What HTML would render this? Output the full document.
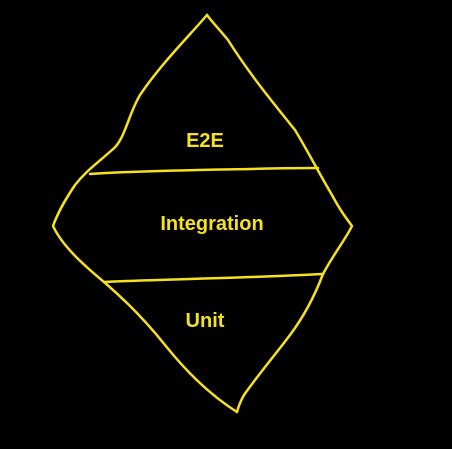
<!DOCTYPE html>
<html><head><style>
html,body{margin:0;padding:0;background:#000;width:452px;height:449px;overflow:hidden}
</style></head><body>
<svg width="452" height="449" viewBox="0 0 452 449" xmlns="http://www.w3.org/2000/svg">
<rect width="452" height="449" fill="#000"/>
<g fill="none" stroke="#f5e11c" stroke-width="2.5" stroke-linecap="round" stroke-linejoin="round">
<path d="M207,15 C190,35 160,65 140,95 C128,115 125,140 112,150 C95,165 85,172 75,185 C65,200 58,212 53,226 C62,245 80,262 104,282 C125,300 145,320 165,345 C185,370 210,395 237,412"/>
<path d="M207,15 C212,22 220,30 228,40 C250,75 275,105 295,130 C310,155 320,175 332,195 C340,210 346,218 352,226 C345,240 333,255 323,274 C315,295 305,315 290,335 C275,355 258,375 244,395 C240,402 238,408 237,412"/>
<path d="M90,174 C130,171 200,170 250,169 C280,168 300,168 318,168"/>
<path d="M104,282 C140,280 200,279 250,277 C280,276 300,275 323,274"/>
</g>
<g fill="#f5e11c" font-family="Liberation Sans, sans-serif" font-weight="bold" font-size="20" text-anchor="middle">
<text x="205" y="147">E2E</text>
<text x="212" y="230">Integration</text>
<text x="205" y="327">Unit</text>
</g>
</svg>
</body></html>
